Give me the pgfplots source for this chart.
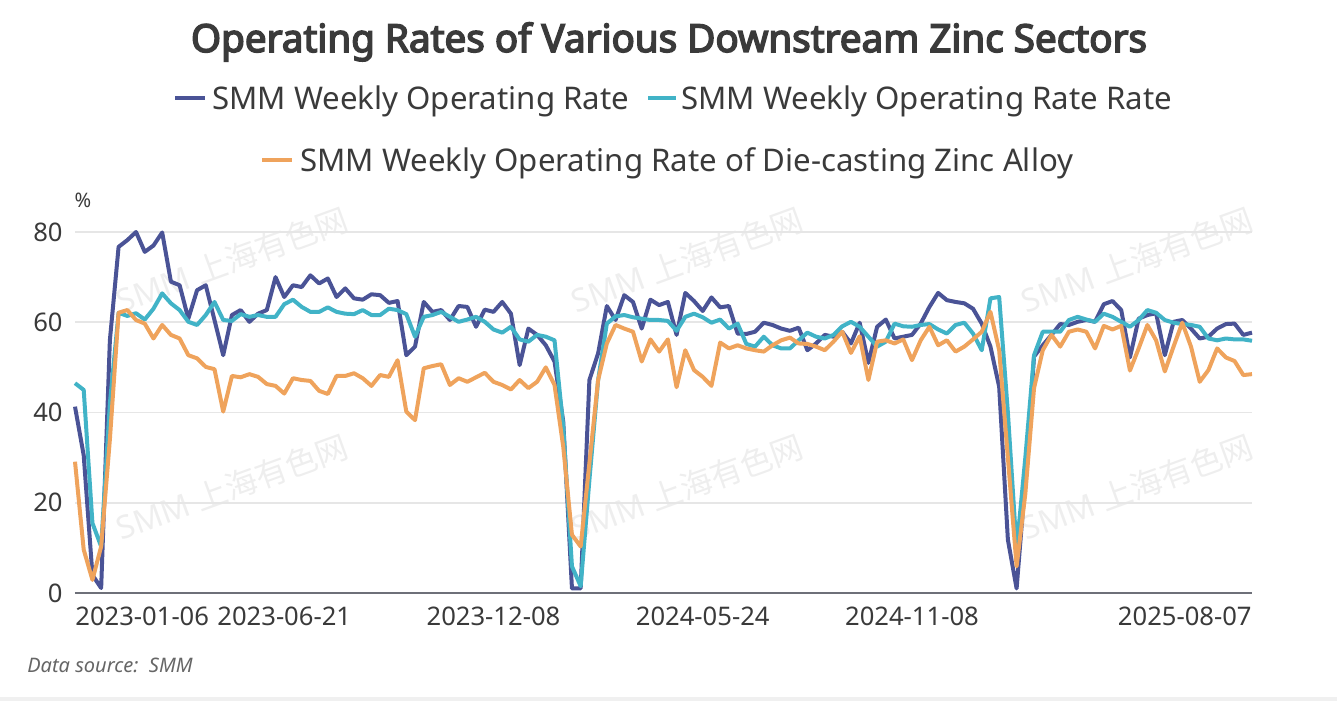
\documentclass[border=0pt]{standalone}
\usepackage{fontspec}
\setmainfont{Noto Sans}
\newfontfamily\titlefont{Noto Sans}[FakeBold=4]
\newfontfamily\cjk{Noto Sans CJK SC}
\usepackage{pgfplots}
\usepackage{pgfplotstable}
\pgfplotsset{compat=1.18}

\definecolor{sblue}{HTML}{4A5396}
\definecolor{scyan}{HTML}{41B3C7}
\definecolor{sorange}{HTML}{EFA35C}
\definecolor{txt}{HTML}{3A3A3A}
\definecolor{gridc}{HTML}{E6E6E6}
\definecolor{axisc}{HTML}{6E7079}
\definecolor{wm}{HTML}{EEEEEE}

% weekly rates, index 0 = 2023-01-06
\pgfplotstableread{
i b c o
0 41.3 46.5 29.1
1 30.5 45.0 9.6
2 4.0 15.5 2.9
3 1.1 10.3 10.3
4 56.0 42.0 34.0
5 76.7 62.1 62.1
6 78.2 61.4 62.7
7 80.0 62.0 60.5
8 75.6 60.6 59.7
9 77.0 63.0 56.4
10 79.9 66.4 59.4
11 69.0 64.2 57.2
12 68.2 62.7 56.4
13 60.8 60.1 52.7
14 67.1 59.4 52.0
15 68.2 61.6 50.1
16 60.5 64.5 49.6
17 52.7 60.5 40.2
18 61.6 60.3 48.1
19 62.7 61.8 47.8
20 60.1 61.2 48.5
21 61.9 61.6 47.9
22 62.7 61.2 46.3
23 70.0 61.2 45.9
24 65.6 64.0 44.2
25 68.2 65.0 47.6
26 67.8 63.4 47.2
27 70.4 62.3 47.0
28 68.6 62.3 44.8
29 69.7 63.3 44.1
30 65.6 62.3 48.1
31 67.5 61.9 48.1
32 65.3 61.8 48.7
33 65.0 62.7 47.6
34 66.2 61.6 45.9
35 66.0 61.6 48.3
36 64.3 63.0 47.9
37 64.7 62.7 51.6
38 52.7 61.8 40.2
39 54.6 56.8 38.3
40 64.5 61.2 49.8
41 62.3 61.6 50.3
42 62.7 62.3 50.7
43 60.5 61.2 46.1
44 63.6 60.1 47.6
45 63.4 60.6 46.8
46 59.0 61.2 47.8
47 62.8 60.1 48.8
48 62.3 58.4 46.8
49 64.5 57.7 46.1
50 61.9 59.0 45.1
51 50.5 56.2 47.2
52 58.6 55.7 45.4
53 57.2 57.2 46.8
54 54.9 56.8 50.0
55 51.3 56.0 46.1
56 38.0 36.9 32.4
57 1.0 5.9 12.9
58 1.0 1.5 10.3
59 47.2 25.0 28.8
60 53.1 47.2 47.2
61 63.6 59.7 55.3
62 60.5 61.3 59.4
63 66.0 61.6 58.6
64 64.5 61.1 57.9
65 58.6 60.8 51.3
66 65.0 60.5 56.2
67 63.8 60.5 53.5
68 64.5 60.3 56.2
69 57.2 58.1 45.6
70 66.5 61.2 53.8
71 64.7 61.9 49.4
72 62.5 61.1 47.9
73 65.5 59.9 45.9
74 63.3 60.6 55.5
75 63.6 58.6 54.2
76 57.5 59.7 54.9
77 57.4 55.2 54.2
78 57.9 54.6 53.8
79 59.9 56.8 53.5
80 59.4 54.9 54.9
81 58.6 54.2 56.0
82 58.1 54.2 56.6
83 58.8 56.0 55.3
84 53.8 57.7 55.2
85 55.3 56.8 54.6
86 57.2 56.4 53.8
87 56.8 57.2 55.7
88 57.9 59.1 57.9
89 55.3 60.1 53.2
90 59.9 59.0 56.9
91 51.0 56.8 47.2
92 59.0 54.6 55.7
93 60.6 55.7 56.0
94 56.4 59.7 55.3
95 56.8 59.1 56.2
96 57.2 59.0 51.6
97 59.7 59.4 56.0
98 63.4 59.6 59.0
99 66.5 58.4 54.9
100 64.9 57.5 56.0
101 64.5 59.4 53.5
102 64.2 59.9 54.6
103 63.0 57.5 56.2
104 59.7 53.8 57.9
105 54.6 65.3 62.3
106 45.7 65.6 53.8
107 11.8 40.0 30.0
108 1.0 9.6 5.9
109 25.0 30.0 22.0
110 52.4 52.7 45.4
111 54.9 57.9 53.8
112 57.2 57.9 57.2
113 59.6 57.9 54.6
114 59.4 60.5 57.9
115 60.1 61.2 58.4
116 60.5 60.6 57.9
117 60.1 60.1 54.2
118 64.0 61.9 59.2
119 64.7 61.2 58.4
120 62.7 60.1 59.2
121 52.2 59.0 49.3
122 60.8 60.5 54.2
123 61.6 62.7 59.4
124 62.0 62.1 56.0
125 52.7 60.5 49.1
126 60.1 59.9 54.6
127 60.5 59.6 59.9
128 58.6 59.4 54.6
129 56.4 59.0 46.8
130 56.8 56.4 49.4
131 58.6 56.0 54.2
132 59.6 56.4 52.2
133 59.7 56.2 51.4
134 57.2 56.2 48.3
135 57.7 55.9 48.5
}\zinc

\begin{document}
\begin{tikzpicture}
% 1 unit = 1 px of the reference, origin at the axis' lower left corner
\begin{scope}[x=0.5pt,y=0.5pt]
  \useasboundingbox (-75,-108) rectangle (1262,593);
  \foreach \cx in {157,612,1062}{
    \foreach \cy in {333,106}{
      \node[text=wm,rotate=20,font=\fontsize{16}{16}\selectfont] at (\cx,\cy) {SMM {\cjk 上海有色网}};
    }
  }
\end{scope}

\begin{axis}[
  at={(0,0)}, anchor=south west,
  scale only axis,
  width=588.5pt, height=180.5pt,
  xmin=0, xmax=135, ymin=0, ymax=80,
  clip=false,
  axis x line*=bottom,
  axis y line*=left,
  y axis line style={draw=none},
  x axis line style={draw=axisc, line width=1pt, -},
  major tick length=0pt,
  xtick={24,48,72,96},
  xticklabels={2023-06-21,2023-12-08,2024-05-24,2024-11-08},
  ytick={0,20,40,60,80},
  ymajorgrids,
  grid style={gridc, line width=0.8pt},
  tick label style={font=\fontsize{12.8}{15}\selectfont, text=txt},
  /pgf/number format/assume math mode=true,
  xticklabel style={anchor=north, inner sep=0pt, yshift=-7pt},
  yticklabel style={anchor=east, inner sep=0pt, xshift=-6pt},
]
\addplot[sblue, line width=2pt, line join=round] table[x=i, y=b] {\zinc};
\addplot[scyan, line width=2pt, line join=round] table[x=i, y=c] {\zinc};
\addplot[sorange, line width=2pt, line join=round] table[x=i, y=o] {\zinc};
\end{axis}

\begin{scope}[x=0.5pt,y=0.5pt]
  % first and last date labels, aligned to the plot edges
  \node[anchor=north west, inner sep=0pt, text=txt, font=\fontsize{12.8}{15}\selectfont] at (0,-14) {2023-01-06};
  \node[anchor=north east, inner sep=0pt, text=txt, font=\fontsize{12.8}{15}\selectfont] at (1177,-14) {2025-08-07};
  \node[text=txt, font=\fontsize{10}{12}\selectfont] at (8,393) {\%};
  % title
  \node[anchor=base, text=txt, font=\fontsize{19.3}{23}\titlefont] at (594,541) {Operating Rates of Various Downstream Zinc Sectors};
  % legend
  \draw[sblue, line width=2pt] (100,495) -- (130,495);
  \node[anchor=base west, inner sep=0pt, text=txt, font=\fontsize{15.6}{18}\selectfont] at (137,483) {SMM Weekly Operating Rate};
  \draw[scyan, line width=2pt] (573,495) -- (601,495);
  \node[anchor=base west, inner sep=0pt, text=txt, font=\fontsize{15.6}{18}\selectfont] at (606,483) {SMM Weekly Operating Rate Rate};
  \draw[sorange, line width=2pt] (187,433) -- (217,433);
  \node[anchor=base west, inner sep=0pt, text=txt, font=\fontsize{15.6}{18}\selectfont] at (225,421) {SMM Weekly Operating Rate of Die-casting Zinc Alloy};
  % source note
  \node[anchor=base west, inner sep=0pt, text=black!60, font=\fontsize{10}{12}\selectfont\itshape] at (-48,-79) {Data source:\ \ SMM};
  \fill[black!6] (-75,-108) rectangle (1262,-104);
\end{scope}
\end{tikzpicture}
\end{document}
